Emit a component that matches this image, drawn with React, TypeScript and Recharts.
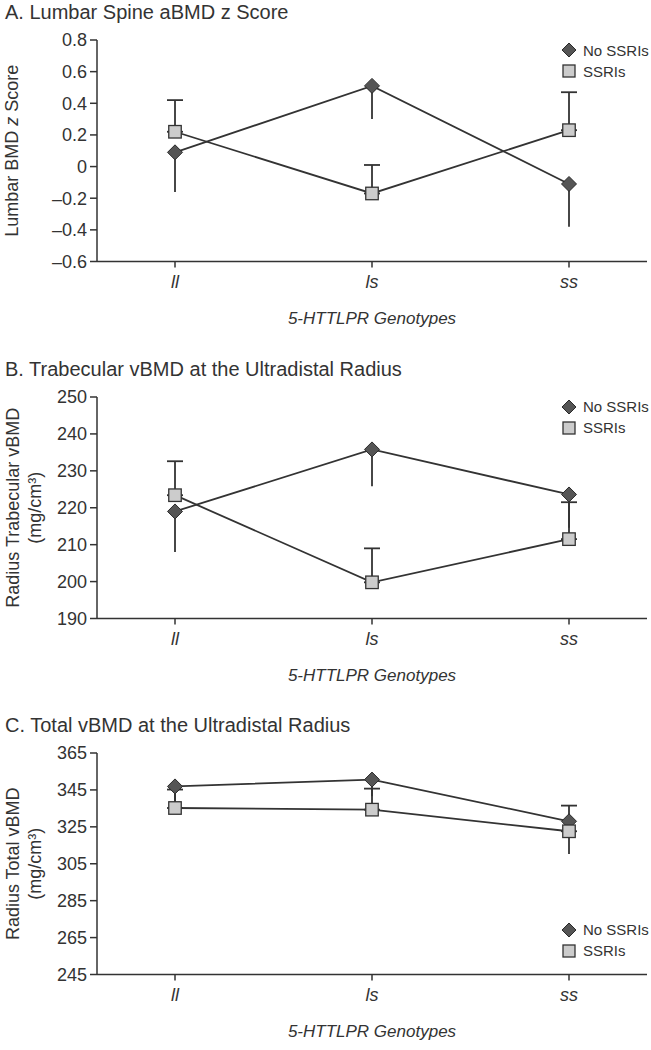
import { LineChart, Line, XAxis, YAxis, ErrorBar } from 'recharts'

const genotypes = ['ll', 'ls', 'ss']
const seriesNames = ['No SSRIs', 'SSRIs']

// A. lumbar spine aBMD z score
const lumbarNo = [0.09, 0.51, -0.11]
const lumbarNoErr = [0.25, 0.21, 0.27]
const lumbarSsri = [0.22, -0.17, 0.23]
const lumbarSsriErr = [0.2, 0.18, 0.24]
const lumbarTicks = [-0.6, -0.4, -0.2, 0, 0.2, 0.4, 0.6, 0.8]

// B. trabecular vBMD
const trabNo = [219, 235.8, 223.6]
const trabNoErr = [11, 10, 9]
const trabSsri = [223.4, 199.8, 211.5]
const trabSsriErr = [9.2, 9.2, 10]
const trabTicks = [190, 200, 210, 220, 230, 240, 250]

// C. total vBMD
const totalNo = [346.9, 350.6, 328]
const totalNoErr = [12, 9, 17.7]
const totalSsri = [335.2, 334.3, 322.6]
const totalSsriErr = [10, 11.4, 13.9]
const totalTicks = [245, 265, 285, 305, 325, 345, 365]

const FONT = '"Liberation Sans", Arial, sans-serif'
const INK = '#333333'

const buildRows = (no: number[], noErr: number[], ss: number[], ssErr: number[]) =>
  genotypes.map((g, i) => ({
    name: g,
    no: no[i],
    noErr: [noErr[i], 0],
    ssri: ss[i],
    ssriErr: [0, ssErr[i]],
  }))

function Diamond({ cx, cy, r = 7.5 }: { cx: number; cy: number; r?: number }) {
  return (
    <polygon
      points={`${cx},${cy - r} ${cx + r},${cy} ${cx},${cy + r} ${cx - r},${cy}`}
      fill="#555555"
      stroke="#2a2a2a"
      strokeWidth={1}
    />
  )
}

function Square({ cx, cy, s = 12.5 }: { cx: number; cy: number; s?: number }) {
  return <rect x={cx - s / 2} y={cy - s / 2} width={s} height={s} fill="#cccccc" stroke="#333333" strokeWidth={1.3} />
}

const PLOT_TOP = 40
const PLOT_H = 221.5
const CHART_H = 340

interface PanelProps {
  top: number
  title: string
  yLines: React.ReactNode[]
  ticks: number[]
  fmt: (v: number) => string
  data: any[]
  legendTop: number
}

function Panel({ top, title, yLines, ticks, fmt, data, legendTop }: PanelProps) {
  const yLabel = (props: any) => {
    const vb = props.viewBox
    const cy = vb.y + vb.height / 2
    const xs = yLines.length === 1 ? [12] : [13, 35]
    return (
      <g>
        {yLines.map((ln, i) => (
          <text
            key={i}
            x={xs[i]}
            y={cy}
            transform={`rotate(-90, ${xs[i]}, ${cy})`}
            textAnchor="middle"
            dy="0.35em"
            fontSize={18}
            fill={INK}
            fontFamily={FONT}
          >
            {ln}
          </text>
        ))}
      </g>
    )
  }

  const xTitle = (props: any) => {
    const vb = props.viewBox
    return (
      <text
        x={vb.x + vb.width / 2}
        y={vb.y + 57}
        dy="0.35em"
        textAnchor="middle"
        fontSize={17}
        fontStyle="italic"
        fill={INK}
        fontFamily={FONT}
      >
        5-HTTLPR Genotypes
      </text>
    )
  }

  const xTick = (props: any) => (
    <text
      x={props.x}
      y={props.y}
      dy={18}
      textAnchor="middle"
      fontSize={18}
      fontStyle="italic"
      fill={INK}
      fontFamily={FONT}
    >
      {props.payload.value}
    </text>
  )

  return (
    <div style={{ position: 'absolute', left: 0, top, width: 651, height: CHART_H }}>
      <div
        style={{
          position: 'absolute',
          left: 5,
          top: 0,
          fontFamily: FONT,
          fontSize: 20,
          lineHeight: '24px',
          color: INK,
          whiteSpace: 'nowrap',
          zIndex: 2,
        }}
      >
        {title}
      </div>
      <div
        style={{
          position: 'absolute',
          left: 561,
          top: legendTop,
          fontFamily: FONT,
          fontSize: 15,
          color: INK,
          zIndex: 2,
        }}
      >
        {seriesNames.map((n, i) => (
          <div key={n} style={{ display: 'flex', alignItems: 'center', height: 21 }}>
            <svg width={16} height={16} style={{ marginRight: 6 }}>
              {i === 0 ? <Diamond cx={8} cy={8} r={7} /> : <Square cx={8} cy={8} s={12} />}
            </svg>
            <span>{n}</span>
          </div>
        ))}
      </div>
      <LineChart
        width={651}
        height={CHART_H}
        data={data}
        margin={{ top: PLOT_TOP, right: 4, bottom: CHART_H - PLOT_TOP - PLOT_H - 60, left: 0 }}
      >
        <XAxis
          dataKey="name"
          padding={{ left: 78, right: 78 }}
          height={60}
          stroke={INK}
          strokeWidth={1.5}
          tickSize={6}
          tickMargin={2}
          tick={xTick}
          label={xTitle}
        />
        <YAxis
          type="number"
          domain={[ticks[0], ticks[ticks.length - 1]]}
          ticks={ticks}
          interval={0}
          width={97}
          stroke={INK}
          strokeWidth={1.5}
          tickSize={7}
          tickMargin={3}
          tickFormatter={fmt}
          tick={{ fontSize: 18, fill: INK, fontFamily: FONT }}
          label={yLabel}
        />
        <Line
          dataKey="no"
          name={seriesNames[0]}
          stroke={INK}
          strokeWidth={1.8}
          isAnimationActive={false}
          dot={(p: any) => <Diamond key={`d-${p.index}`} cx={p.cx} cy={p.cy} />}
          activeDot={false}
        >
          <ErrorBar dataKey="noErr" direction="y" width={0} stroke={INK} strokeWidth={1.8} />
        </Line>
        <Line
          dataKey="ssri"
          name={seriesNames[1]}
          stroke={INK}
          strokeWidth={1.8}
          isAnimationActive={false}
          dot={(p: any) => <Square key={`s-${p.index}`} cx={p.cx} cy={p.cy} />}
          activeDot={false}
        >
          <ErrorBar dataKey="ssriErr" direction="y" width={8} stroke={INK} strokeWidth={1.8} />
        </Line>
      </LineChart>
    </div>
  )
}

const dash = (s: string) => s.replace('-', '\u2013')

export default function App() {
  return (
    <div style={{ position: 'absolute', left: 0, top: 0, width: 651, height: 1050, background: '#fff', overflow: 'hidden' }}>
      <Panel
        top={0}
        title="A. Lumbar Spine aBMD z Score"
        yLines={[
          <>
            Lumbar BMD <tspan fontStyle="italic">z</tspan> Score
          </>,
        ]}
        ticks={lumbarTicks}
        fmt={(v) => (v === 0 ? '0' : dash(v.toFixed(1)))}
        data={buildRows(lumbarNo, lumbarNoErr, lumbarSsri, lumbarSsriErr)}
        legendTop={39.5}
      />
      <Panel
        top={356.5}
        title="B. Trabecular vBMD at the Ultradistal Radius"
        yLines={['Radius Trabecular vBMD', '(mg/cm\u00b3)']}
        ticks={trabTicks}
        fmt={(v) => String(v)}
        data={buildRows(trabNo, trabNoErr, trabSsri, trabSsriErr)}
        legendTop={39.5}
      />
      <Panel
        top={713.3}
        title="C. Total vBMD at the Ultradistal Radius"
        yLines={['Radius Total vBMD', '(mg/cm\u00b3)']}
        ticks={totalTicks}
        fmt={(v) => String(v)}
        data={buildRows(totalNo, totalNoErr, totalSsri, totalSsriErr)}
        legendTop={206}
      />
    </div>
  )
}
